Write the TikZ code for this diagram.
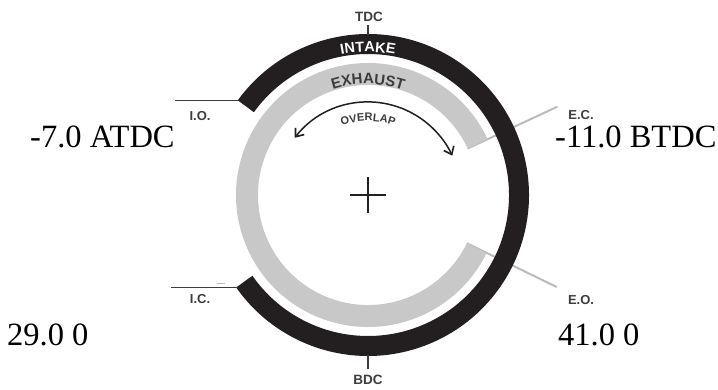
\documentclass[tikz,border=0pt]{standalone}
\usepackage{fontspec}
\setmainfont{Liberation Serif}
\newfontfamily\labfam{Liberation Sans}
\usetikzlibrary{arrows.meta,decorations.text,calc}
\definecolor{ink}{HTML}{231F20}
\definecolor{bandgrey}{HTML}{C8C8C8}
\definecolor{lblgrey}{HTML}{3C3C3C}
\definecolor{ecgrey}{HTML}{BBBBBB}
\newcommand\bandfont{\labfam\bfseries\fontsize{14.5}{14.5}\selectfont}
\newcommand\exfont{\labfam\bfseries\fontsize{15}{15}\selectfont}
\newcommand\smallbandfont{\labfam\bfseries\fontsize{11}{11}\selectfont}
\begin{document}
\begin{tikzpicture}[x=1pt,y=1pt,
  lbl/.style={font=\labfam\bfseries\fontsize{13}{13}\selectfont, text=lblgrey, inner sep=0},
  num/.style={font=\fontsize{32.5}{34}\selectfont, inner sep=0, anchor=base west},
  tick/.style={lblgrey, line width=1.6},
  exline/.style={ecgrey, line width=2},
  barb/.tip={Straight Barb[length=7pt,width=11pt,line width=1.6pt]}]
\useasboundingbox (0,0) rectangle (718,-389);
\coordinate (c) at (368,-195);
% exhaust open/close lines
\coordinate (ecin) at ($(c)+(25:110)$);
\coordinate (ecout) at ($(c)+(25:209)$);
\coordinate (eoin) at ($(c)+(-26:110)$);
\coordinate (eoout) at ($(c)+(-26:210)$);
\draw[exline] (ecin) -- (ecout);
\draw[exline] (eoin) -- (eoout);
% bands
\draw[bandgrey, line width=22] (c) ++(25:121) arc[start angle=25, end angle=334, radius=121];
\draw[ink, line width=20] (c) ++(144:151) arc[start angle=144, end angle=-145, radius=151];
% band texts
\path[decorate, decoration={text along path, text={|\bandfont|INTAKE}, text align=center, text color=white}]
  (c) ++(130:143) arc[start angle=130, end angle=50, radius=143];
\path[decorate, decoration={text along path, text={|\exfont|EXHAUST}, text align=center, text color=lblgrey}]
  (c) ++(130:111) arc[start angle=130, end angle=50, radius=111];
\path[decorate, decoration={text along path, text={|\smallbandfont|OVERLAP}, text align=center, text color=lblgrey}]
  (c) ++(130:74) arc[start angle=130, end angle=50, radius=74];
% overlap arrow
\draw[ink, line width=1.5, barb-barb] (c) ++(142:93) arc[start angle=142, end angle=25, radius=93];
% intake open/close lines
\coordinate (io) at ($(c)+(144:161)$);
\coordinate (ic) at ($(c)+(-145:161)$);
\draw[tick] (io) -- ++(-63,0);
\draw[tick] (ic) -- ++(-65,0);
\draw[ecgrey, line width=1] (217,-283) -- (225,-283);
% TDC / BDC ticks
\node[lbl, font=\labfam\bfseries\fontsize{13.5}{14}\selectfont] (tdc) at (369,-17) {TDC};
\node[lbl, font=\labfam\bfseries\fontsize{13.5}{14}\selectfont] (bdc) at (368,-380) {BDC};
\draw[tick] (368,-35) -- (368,-25);
\draw[tick] (368,-355) -- (368,-369);
% labels
\node[lbl] (iol) at (200,-116) {I.O.};
\node[lbl] (icl) at (200,-299) {I.C.};
\node[lbl] (ecl) at (581,-115) {E.C.};
\node[lbl] (eol) at (581,-300) {E.O.};
% centre cross
\draw[ink, line width=1.5] (350,-195) -- (386,-195);
\draw[ink, line width=1.5] (368,-177) -- (368,-213);
% numbers
\node[num] (n1) at (30,-147) {-7.0 ATDC};
\node[num] (n2) at (555,-147) {-11.0 BTDC};
\node[num] (n3) at (7,-345) {29.0 0};
\node[num] (n4) at (558,-345) {41.0 0};
\end{tikzpicture}
\end{document}
